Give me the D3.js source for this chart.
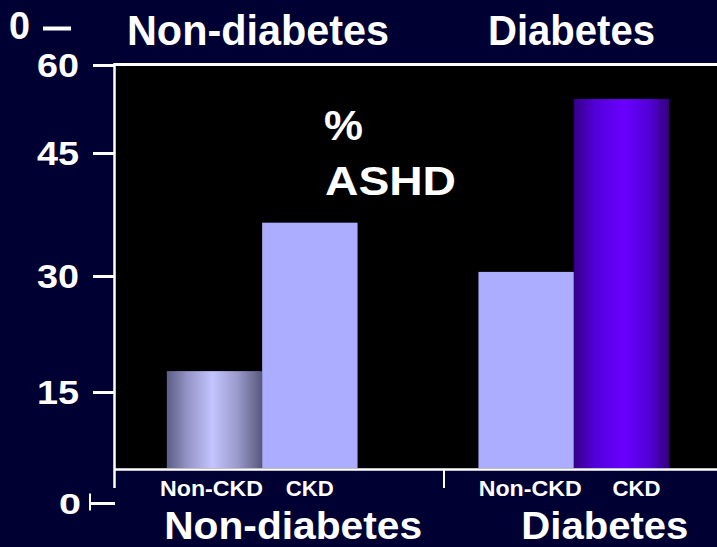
<!DOCTYPE html>
<html>
<head>
<meta charset="utf-8">
<script src="https://cdn.jsdelivr.net/npm/d3@7"></script>
<style>
  html, body { margin: 0; padding: 0; background: #000033; }
  svg { display: block; }
  text { font-family: "Liberation Sans", Arial, Helvetica, sans-serif; font-weight: bold; fill: #ffffff; }
</style>
</head>
<body>
<svg id="chart" width="717" height="547"></svg>
<script>
// Prevalence of atherosclerotic heart disease (%), by diabetes and CKD status
const groups = ["Non-diabetes", "Diabetes"];
const subgroups = ["Non-CKD", "CKD"];
const nonDiabetesValues = [17.7, 36.5];
const diabetesValues = [30.5, 54.2];
const yTickValues = [0, 15, 30, 45, 60];
const yTickLabels = ["0", "15", "30", "45", "60"];
const measureLabel = ["%", "ASHD"];

const rows = [
  { group: groups[0], values: nonDiabetesValues },
  { group: groups[1], values: diabetesValues }
];

const plot = { left: 116, right: 717, top: 66, bottom: 468 };

const svg = d3.select("#chart");
const defs = svg.append("defs");

// Bar fills: cylinder-like shading for two bars, flat lavender for the others
function hGradient(id, stops) {
  const g = defs.append("linearGradient").attr("id", id)
    .attr("x1", "0%").attr("x2", "100%").attr("y1", "0%").attr("y2", "0%");
  stops.forEach(s => g.append("stop").attr("offset", s[0]).attr("stop-color", s[1]));
}
hGradient("silver", [["0%", "#5c5c84"], ["22%", "#9595c8"], ["48%", "#c4c4ff"], ["74%", "#9a9acc"], ["100%", "#58587c"]]);
hGradient("violet", [["0%", "#360088"], ["22%", "#5200d8"], ["52%", "#6a00ff"], ["80%", "#5200d6"], ["100%", "#330078"]]);
const fills = {
  "Non-diabetes|Non-CKD": "url(#silver)",
  "Non-diabetes|CKD": "#adadff",
  "Diabetes|Non-CKD": "#adadff",
  "Diabetes|CKD": "url(#violet)"
};

defs.append("clipPath").attr("id", "plotClip")
  .append("rect")
  .attr("x", plot.left).attr("y", plot.top)
  .attr("width", plot.right - plot.left).attr("height", plot.bottom - plot.top);

// Value axis with uneven tick spacing
const y = d3.scaleLinear()
  .domain(yTickValues)
  .range([503, 392, 276, 153, 65]);

const x0 = d3.scaleBand()
  .domain(groups)
  .range([116, 720])
  .paddingInner(0.388)
  .paddingOuter(0.163);

const x1 = d3.scaleBand()
  .domain(subgroups)
  .range([0, x0.bandwidth()])
  .padding(0);

// Plot background
svg.append("rect")
  .attr("x", plot.left).attr("y", plot.top)
  .attr("width", plot.right - plot.left).attr("height", plot.bottom - plot.top)
  .attr("fill", "#000000");

// Bars
const barLayer = svg.append("g").attr("clip-path", "url(#plotClip)");
rows.forEach(row => {
  barLayer.append("g")
    .attr("transform", `translate(${x0(row.group)},0)`)
    .selectAll("rect")
    .data(subgroups.map((s, i) => ({ group: row.group, sub: s, value: row.values[i] })))
    .join("rect")
    .attr("x", d => x1(d.sub))
    .attr("width", x1.bandwidth())
    .attr("y", d => y(d.value))
    .attr("height", d => y(0) - y(d.value))
    .attr("fill", d => fills[d.group + "|" + d.sub]);
});

// Frame lines
const white = "#ffffff";
svg.append("line").attr("x1", 114).attr("x2", 717).attr("y1", 64.5).attr("y2", 64.5)
  .attr("stroke", white).attr("stroke-width", 3);
svg.append("line").attr("x1", 114.5).attr("x2", 114.5).attr("y1", 63).attr("y2", 488)
  .attr("stroke", white).attr("stroke-width", 2.5);
svg.append("line").attr("x1", 114).attr("x2", 717).attr("y1", 469.5).attr("y2", 469.5)
  .attr("stroke", white).attr("stroke-width", 2.5);
svg.append("line").attr("x1", 444).attr("x2", 444).attr("y1", 469).attr("y2", 488)
  .attr("stroke", white).attr("stroke-width", 2);

// Left axis
const yAxis = d3.axisLeft(y)
  .tickValues(yTickValues)
  .tickFormat((d, i) => yTickLabels[i])
  .tickSize(22)
  .tickPadding(14);

const axisG = svg.append("g").attr("transform", "translate(115,0)").call(yAxis);
axisG.select(".domain").remove();
axisG.selectAll(".tick line").attr("stroke", white).attr("stroke-width", 3);
axisG.selectAll(".tick text")
  .attr("fill", white)
  .attr("font-size", 34)
  .attr("font-family", null)
  .attr("dy", "0.35em")
  .attr("textLength", 42)
  .attr("lengthAdjust", "spacingAndGlyphs");
// zero tick: smaller label with an end cap
axisG.selectAll(".tick").filter(d => d === 0).each(function () {
  const t = d3.select(this);
  t.select("text").attr("font-size", 29).attr("textLength", 22).attr("x", -34);
  t.select("line").attr("x2", -25);
  t.append("line").attr("x1", -25).attr("x2", -25).attr("y1", -10).attr("y2", 7)
    .attr("stroke", white).attr("stroke-width", 2);
});

// Top-left stray "0 –" marker
svg.append("text").attr("x", 9).attr("y", 39).attr("font-size", 38)
  .attr("textLength", 21).attr("lengthAdjust", "spacingAndGlyphs").text("0");
svg.append("line").attr("x1", 43).attr("x2", 71).attr("y1", 28.5).attr("y2", 28.5)
  .attr("stroke", white).attr("stroke-width", 4);

// Header
svg.append("text").attr("x", 127).attr("y", 45).attr("font-size", 43)
  .attr("textLength", 262).attr("lengthAdjust", "spacingAndGlyphs").text(groups[0]);
svg.append("text").attr("x", 488).attr("y", 45).attr("font-size", 43)
  .attr("textLength", 167).attr("lengthAdjust", "spacingAndGlyphs").text(groups[1]);

// Measure label inside the plot
svg.append("text").attr("x", 324).attr("y", 140).attr("font-size", 42)
  .attr("textLength", 39).attr("lengthAdjust", "spacingAndGlyphs").text(measureLabel[0]);
svg.append("text").attr("x", 325).attr("y", 195).attr("font-size", 41)
  .attr("textLength", 131).attr("lengthAdjust", "spacingAndGlyphs").text(measureLabel[1]);

// Sub-category labels under bars
const subShift = { "Non-diabetes": [-3, 0], "Diabetes": [4, 15] };
const subWidth = { "Non-CKD": 103, "CKD": 48 };
groups.forEach(g => {
  subgroups.forEach((s, i) => {
    svg.append("text")
      .attr("x", x0(g) + x1(s) + x1.bandwidth() / 2 + subShift[g][i])
      .attr("y", 496)
      .attr("text-anchor", "middle")
      .attr("font-size", 22)
      .attr("textLength", subWidth[s])
      .attr("lengthAdjust", "spacingAndGlyphs")
      .text(s);
  });
});

// Group labels
const groupWidth = { "Non-diabetes": 258, "Diabetes": 167 };
groups.forEach(g => {
  svg.append("text")
    .attr("x", x0(g) + x0.bandwidth() / 2 + 31)
    .attr("y", 539)
    .attr("text-anchor", "middle")
    .attr("font-size", 38)
    .attr("textLength", groupWidth[g])
    .attr("lengthAdjust", "spacingAndGlyphs")
    .text(g);
});
</script>
</body>
</html>
